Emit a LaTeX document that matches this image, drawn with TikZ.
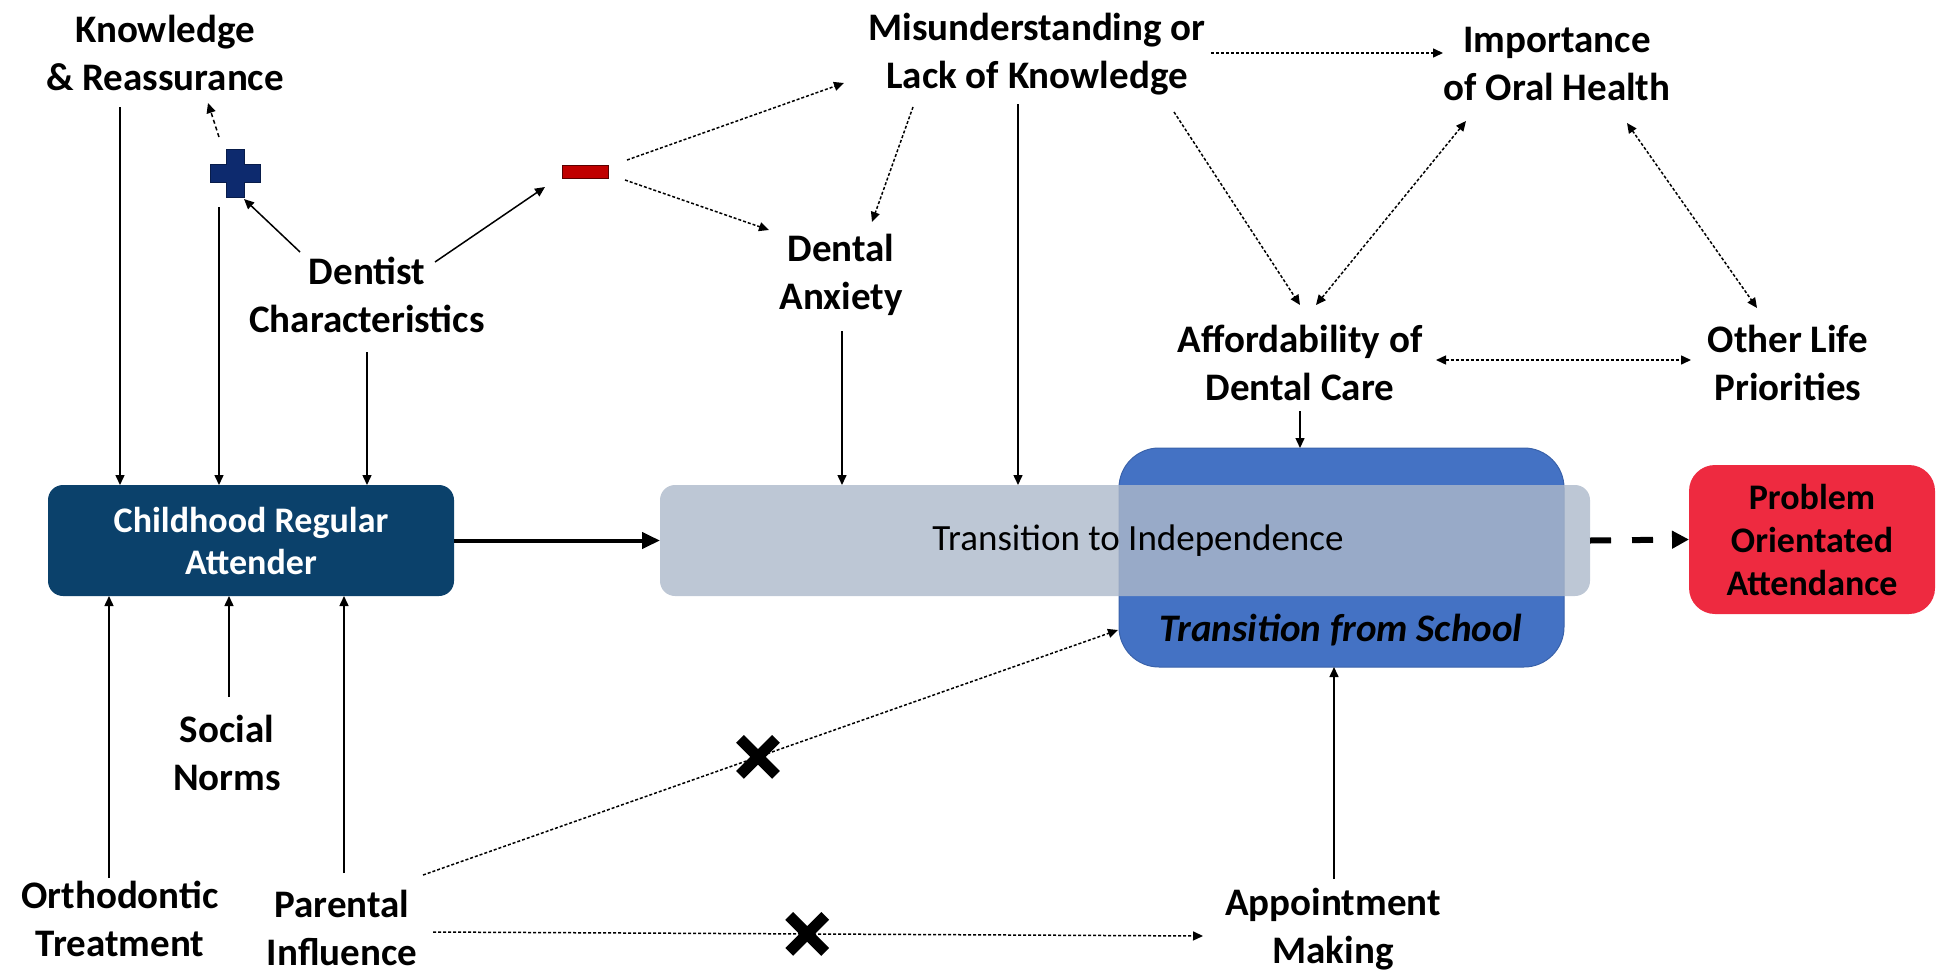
\documentclass[tikz,border=0pt]{standalone}
\usepackage{fontspec}
\setmainfont{Carlito}
\usetikzlibrary{arrows.meta,shapes.misc}
\definecolor{navybox}{HTML}{0B416B}
\definecolor{schoolblue}{HTML}{4472C4}
\definecolor{schooledge}{HTML}{3A62AA}
\definecolor{palebox}{HTML}{ADB9CA}
\definecolor{alarmred}{HTML}{EE2A40}
\definecolor{plusnavy}{HTML}{0D2A6E}
\definecolor{plusedge}{HTML}{081C4A}
\definecolor{minusred}{HTML}{C00000}
\definecolor{minusedge}{HTML}{5A0000}
\begin{document}
\begin{tikzpicture}[x=1pt,y=-1pt,
  lbl/.style={align=center,inner sep=0pt,outer sep=0pt,
    font=\fontsize{39}{48}\selectfont\bfseries},
  boxbase/.style={inner sep=0pt,outer sep=0pt,align=center},
  tipsmall/.style={-{Triangle[length=10pt,width=9pt]}},
  conn/.style={line width=1.5pt,tipsmall},
  dotconn/.style={line width=1.5pt,dash pattern=on 3pt off 2pt,tipsmall},
  dotboth/.style={line width=1.5pt,dash pattern=on 3pt off 2pt,
    {Triangle[length=10pt,width=9pt]}-{Triangle[length=10pt,width=9pt]}},
  dashconn/.style={line width=1.5pt,dash pattern=on 4pt off 3pt,tipsmall},
  thickconn/.style={line width=4pt,-{Triangle[length=18pt,width=16pt]}},
  dashthick/.style={line width=6pt,dash pattern=on 21pt off 21pt,
    -{Triangle[length=17pt,width=17pt]}},
  xmark/.style={cross out,draw,solid,line width=11pt,minimum size=25pt,
    inner sep=0pt,black}
]
\useasboundingbox (0,0) rectangle (1937,972);

% ---- labels ----
\node[lbl] (know) at (165,52.5) {Knowledge\\\& Reassurance};
\node[lbl] (dent) at (367,294.5) {Dentist\\Characteristics};
\node[lbl] (mis)  at (1037,54.5) {Misunderstanding or\\Lack of Knowledge};
\node[lbl] (anx)  at (841,274.5) {Dental\\Anxiety};
\node[lbl] (imp)  at (1557,63.5) {Importance\\of Oral Health};
\node[lbl] (aff)  at (1300,362.5) {Affordability of\\Dental Care};
\node[lbl] (oth)  at (1788,362.5) {Other Life\\Priorities};
\node[lbl] (soc)  at (227,752.5) {Social\\Norms};
\node[lbl] (orth) at (120,919) {Orthodontic\\Treatment};
\node[lbl] (par)  at (342,927.5) {Parental\\Influence};
\node[lbl] (app)  at (1333,929.5) {Appointment\\Making};

% ---- plus and minus signs ----
\node[inner sep=0pt,outer sep=0pt,minimum width=50pt,minimum height=48pt] (plus) at (235,173) {};
\begin{scope}[shift={(plus.center)}]
  \filldraw[fill=plusnavy,draw=plusedge,line width=1pt]
    (-9,-24) -- (9,-24) -- (9,-9) -- (25,-9) -- (25,9) -- (9,9) -- (9,24)
    -- (-9,24) -- (-9,9) -- (-25,9) -- (-25,-9) -- (-9,-9) -- cycle;
\end{scope}
\node[boxbase,fill=minusred,draw=minusedge,line width=1pt,
  minimum width=46pt,minimum height=13pt] (minus) at (585,172) {};

% ---- boxes ----
\node[boxbase,fill=schoolblue,draw=schooledge,line width=1pt,
  minimum width=445pt,minimum height=219pt,rounded corners=40pt] (sch) at (1341.5,557.5) {};
\node[inner sep=0pt,font=\fontsize{39}{48}\selectfont\bfseries\itshape] (schl) at (1341,630) {Transition from School};
\node[boxbase,fill=palebox,fill opacity=0.8,
  minimum width=930pt,minimum height=111pt,rounded corners=15pt] (tind) at (1125,540.5) {};
\node[inner sep=0pt,font=\fontsize{37}{44}\selectfont] (tindl) at (1138,541) {Transition to Independence};
\node[boxbase,fill=navybox,text=white,minimum width=406pt,minimum height=111pt,
  rounded corners=15pt,font=\fontsize{36}{42}\selectfont\bfseries] (cra) at (251,540.5) {Childhood Regular\\Attender};
\node[boxbase,fill=alarmred,minimum width=246pt,minimum height=149pt,
  rounded corners=26pt,font=\fontsize{36}{43}\selectfont\bfseries] (poa) at (1812,539.5) {Problem\\Orientated\\Attendance};

% ---- connectors among the upper factors ----
\draw[dashconn] ([shift={(-16,-36)}]plus.center) -- ([shift={(43,50.5)}]know.center);
\draw[conn] ([shift={(-67,-42.5)}]dent.center) -- ([shift={(9,26)}]plus.center);
\draw[conn] ([shift={(68,-32.5)}]dent.center) -- ([shift={(-40,15)}]minus.center);
\draw[dotconn] ([shift={(42,-12)}]minus.center) -- ([shift={(-193,28.5)}]mis.center);
\draw[dotconn] ([shift={(40,8)}]minus.center) -- ([shift={(-72,-44.5)}]anx.center);
\draw[dotconn] ([shift={(-124,52.5)}]mis.center) -- ([shift={(31,-52.5)}]anx.center);
\draw[dotconn] ([shift={(174,-1.5)}]mis.center) -- ([shift={(-114,-10.5)}]imp.center);
\draw[dotconn] ([shift={(137,57.5)}]mis.center) -- ([shift={(0,-57.5)}]aff.center);
\draw[dotboth] ([shift={(-91,57.5)}]imp.center) -- ([shift={(16,-57.5)}]aff.center);
\draw[dotboth] ([shift={(70,59.5)}]imp.center) -- ([shift={(-31,-54.5)}]oth.center);
\draw[dotboth] ([shift={(136,-2.5)}]aff.center) -- ([shift={(-97,-2.5)}]oth.center);

% ---- into the childhood box ----
\draw[conn] ([shift={(-45,54.5)}]know.center) -- ([shift={(-131,0)}]cra.north);
\draw[conn] ([shift={(-16,34)}]plus.center) -- ([shift={(-32,0)}]cra.north);
\draw[conn] ([shift={(0,57.5)}]dent.center) -- ([shift={(116,0)}]cra.north);
\draw[conn] ([shift={(-11,-41)}]orth.center) -- ([shift={(-142,0)}]cra.south);
\draw[conn] ([shift={(2,-55.5)}]soc.center) -- ([shift={(-22,0)}]cra.south);
\draw[conn] ([shift={(2,-54.5)}]par.center) -- ([shift={(93,0)}]cra.south);

% ---- main pathway ----
\draw[thickconn] (cra.east) -- (tind.west);
\draw[conn] ([shift={(1,56.5)}]anx.center) -- ([shift={(-283,0)}]tind.north);
\draw[conn] ([shift={(-19,49.5)}]mis.center) -- ([shift={(-107,0)}]tind.north);
\draw[conn] ([shift={(0,48.5)}]aff.center) -- ([shift={(-41.5,0)}]sch.north);
\draw[dashthick] (tind.east) -- (poa.west);
\draw[conn] ([shift={(1,-50.5)}]app.center) -- ([shift={(-7.5,0)}]sch.south);

% ---- parental influence that no longer applies ----
\draw[dotconn] ([shift={(81,-52.5)}]par.center) -- node[xmark,pos=0.482] (xa) {} ([shift={(-223.5,72.5)}]sch.center);
\draw[dotconn] ([shift={(91,4.5)}]par.center) -- node[xmark,pos=0.486] (xb) {} ([shift={(-130,6.5)}]app.center);
\end{tikzpicture}
\end{document}
